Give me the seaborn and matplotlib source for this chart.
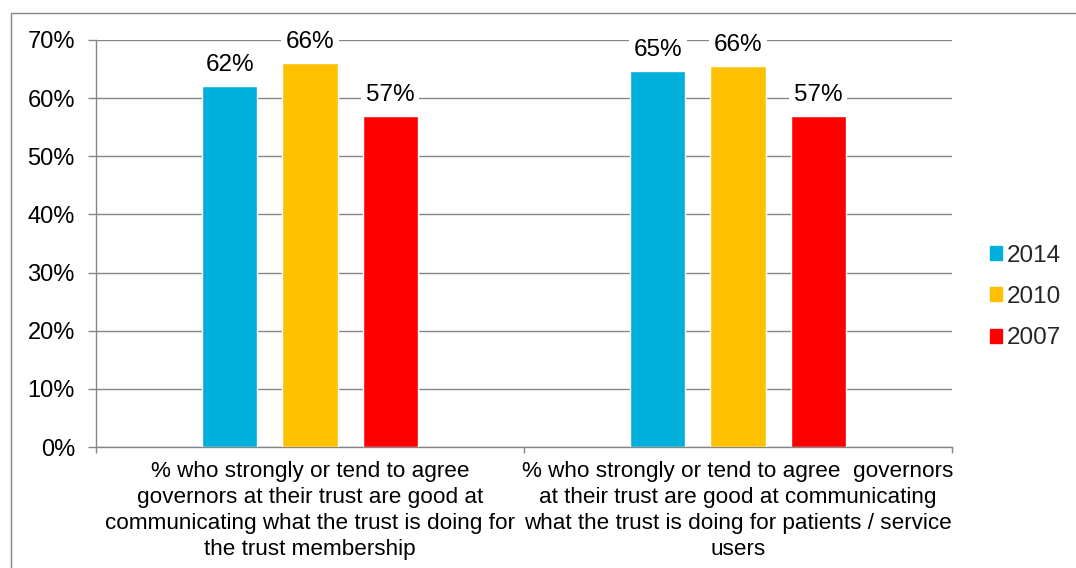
import matplotlib
matplotlib.use("Agg")
import matplotlib.pyplot as plt
import matplotlib.patches as mpatches
import pandas as pd
import seaborn as sns

# Survey results (% agreeing), by question and survey year
categories = [
    "% who strongly or tend to agree\ngovernors at their trust are good at\ncommunicating what the trust is doing for\nthe trust membership",
    "% who strongly or tend to agree  governors\nat their trust are good at communicating\nwhat the trust is doing for patients / service\nusers",
]
years = ["2014", "2010", "2007"]
values_2014 = [62.1, 64.7]
values_2010 = [66.1, 65.5]
values_2007 = [57.0, 57.0]
colors = ["#00B0DA", "#FFC000", "#FF0000"]
yticks = [0, 10, 20, 30, 40, 50, 60, 70]

rows = []
for year, vals in zip(years, [values_2014, values_2010, values_2007]):
    for cat, v in zip(categories, vals):
        rows.append({"category": cat, "year": year, "value": v})
df = pd.DataFrame(rows)

sns.set_theme(style="white")
plt.rcParams["font.family"] = ["Liberation Sans", "DejaVu Sans"]

fig = plt.figure(figsize=(10.76, 5.68), dpi=100)
ax = fig.add_axes([96 / 1076, 121 / 568, 856 / 1076, 407 / 568])

grey = "#868686"
sns.barplot(
    data=df, x="category", y="value", hue="year", order=categories,
    hue_order=years, palette=colors, width=0.5625, gap=0.3125,
    saturation=1, errorbar=None, ax=ax, legend=False, zorder=3,
)

ax.set_ylim(0, 70)
ax.set_xlim(-0.5, 1.5)
ax.set_yticks(yticks)
ax.set_yticklabels([f"{t}%" for t in yticks], fontsize=17, color="#000000")
ax.yaxis.grid(True, color=grey, linewidth=1.0, zorder=0)
ax.set_axisbelow(True)

# category boundaries carry the ticks, labels sit centred under each group
ax.set_xticks([-0.5, 0.5, 1.5])
ax.set_xticklabels(["", "", ""])
ax.set_xticks([0, 1], minor=True)
ax.set_xticklabels(categories, minor=True, fontsize=16.2, linespacing=1.31,
                   ha="center", va="top", color="#000000")
ax.tick_params(axis="x", which="major", length=4.3, width=1, color=grey,
               direction="out", bottom=True)
ax.tick_params(axis="x", which="minor", length=0, pad=10)
ax.tick_params(axis="y", length=5.8, width=1, color=grey, direction="out",
               left=True, pad=9.4)
ax.set_xlabel("")
ax.set_ylabel("")

for side in ["top", "right"]:
    ax.spines[side].set_visible(False)
for side in ["left", "bottom"]:
    ax.spines[side].set_color(grey)
    ax.spines[side].set_linewidth(1.0)

# value labels above each bar
for container in ax.containers:
    for bar in container:
        h = bar.get_height()
        ax.annotate(
            f"{h:.0f}%", (bar.get_x() + bar.get_width() / 2, h),
            xytext=(0, 7), textcoords="offset points", ha="center",
            va="bottom", fontsize=17.5, color="#000000", zorder=5,
            bbox=dict(boxstyle="square,pad=0.2", fc="white", ec="none"),
        )

handles = [mpatches.Patch(color=c, label=y) for c, y in zip(colors, years)]
fig.legend(
    handles=handles, loc="center left", bbox_to_anchor=(968 / 1076, 1 - 297 / 568),
    frameon=False, fontsize=17.5, handlelength=0.5, handleheight=0.5,
    handletextpad=0.2, labelspacing=0.8,
)

# outer frame of the chart area
fig.patches.append(mpatches.Rectangle(
    (11 / 1076, -0.05), 1.2, 1 - 13 / 568 + 0.05, transform=fig.transFigure,
    fill=False, edgecolor=grey, linewidth=1.0, zorder=0,
))

fig.savefig("out.png", dpi=100, facecolor="white")
